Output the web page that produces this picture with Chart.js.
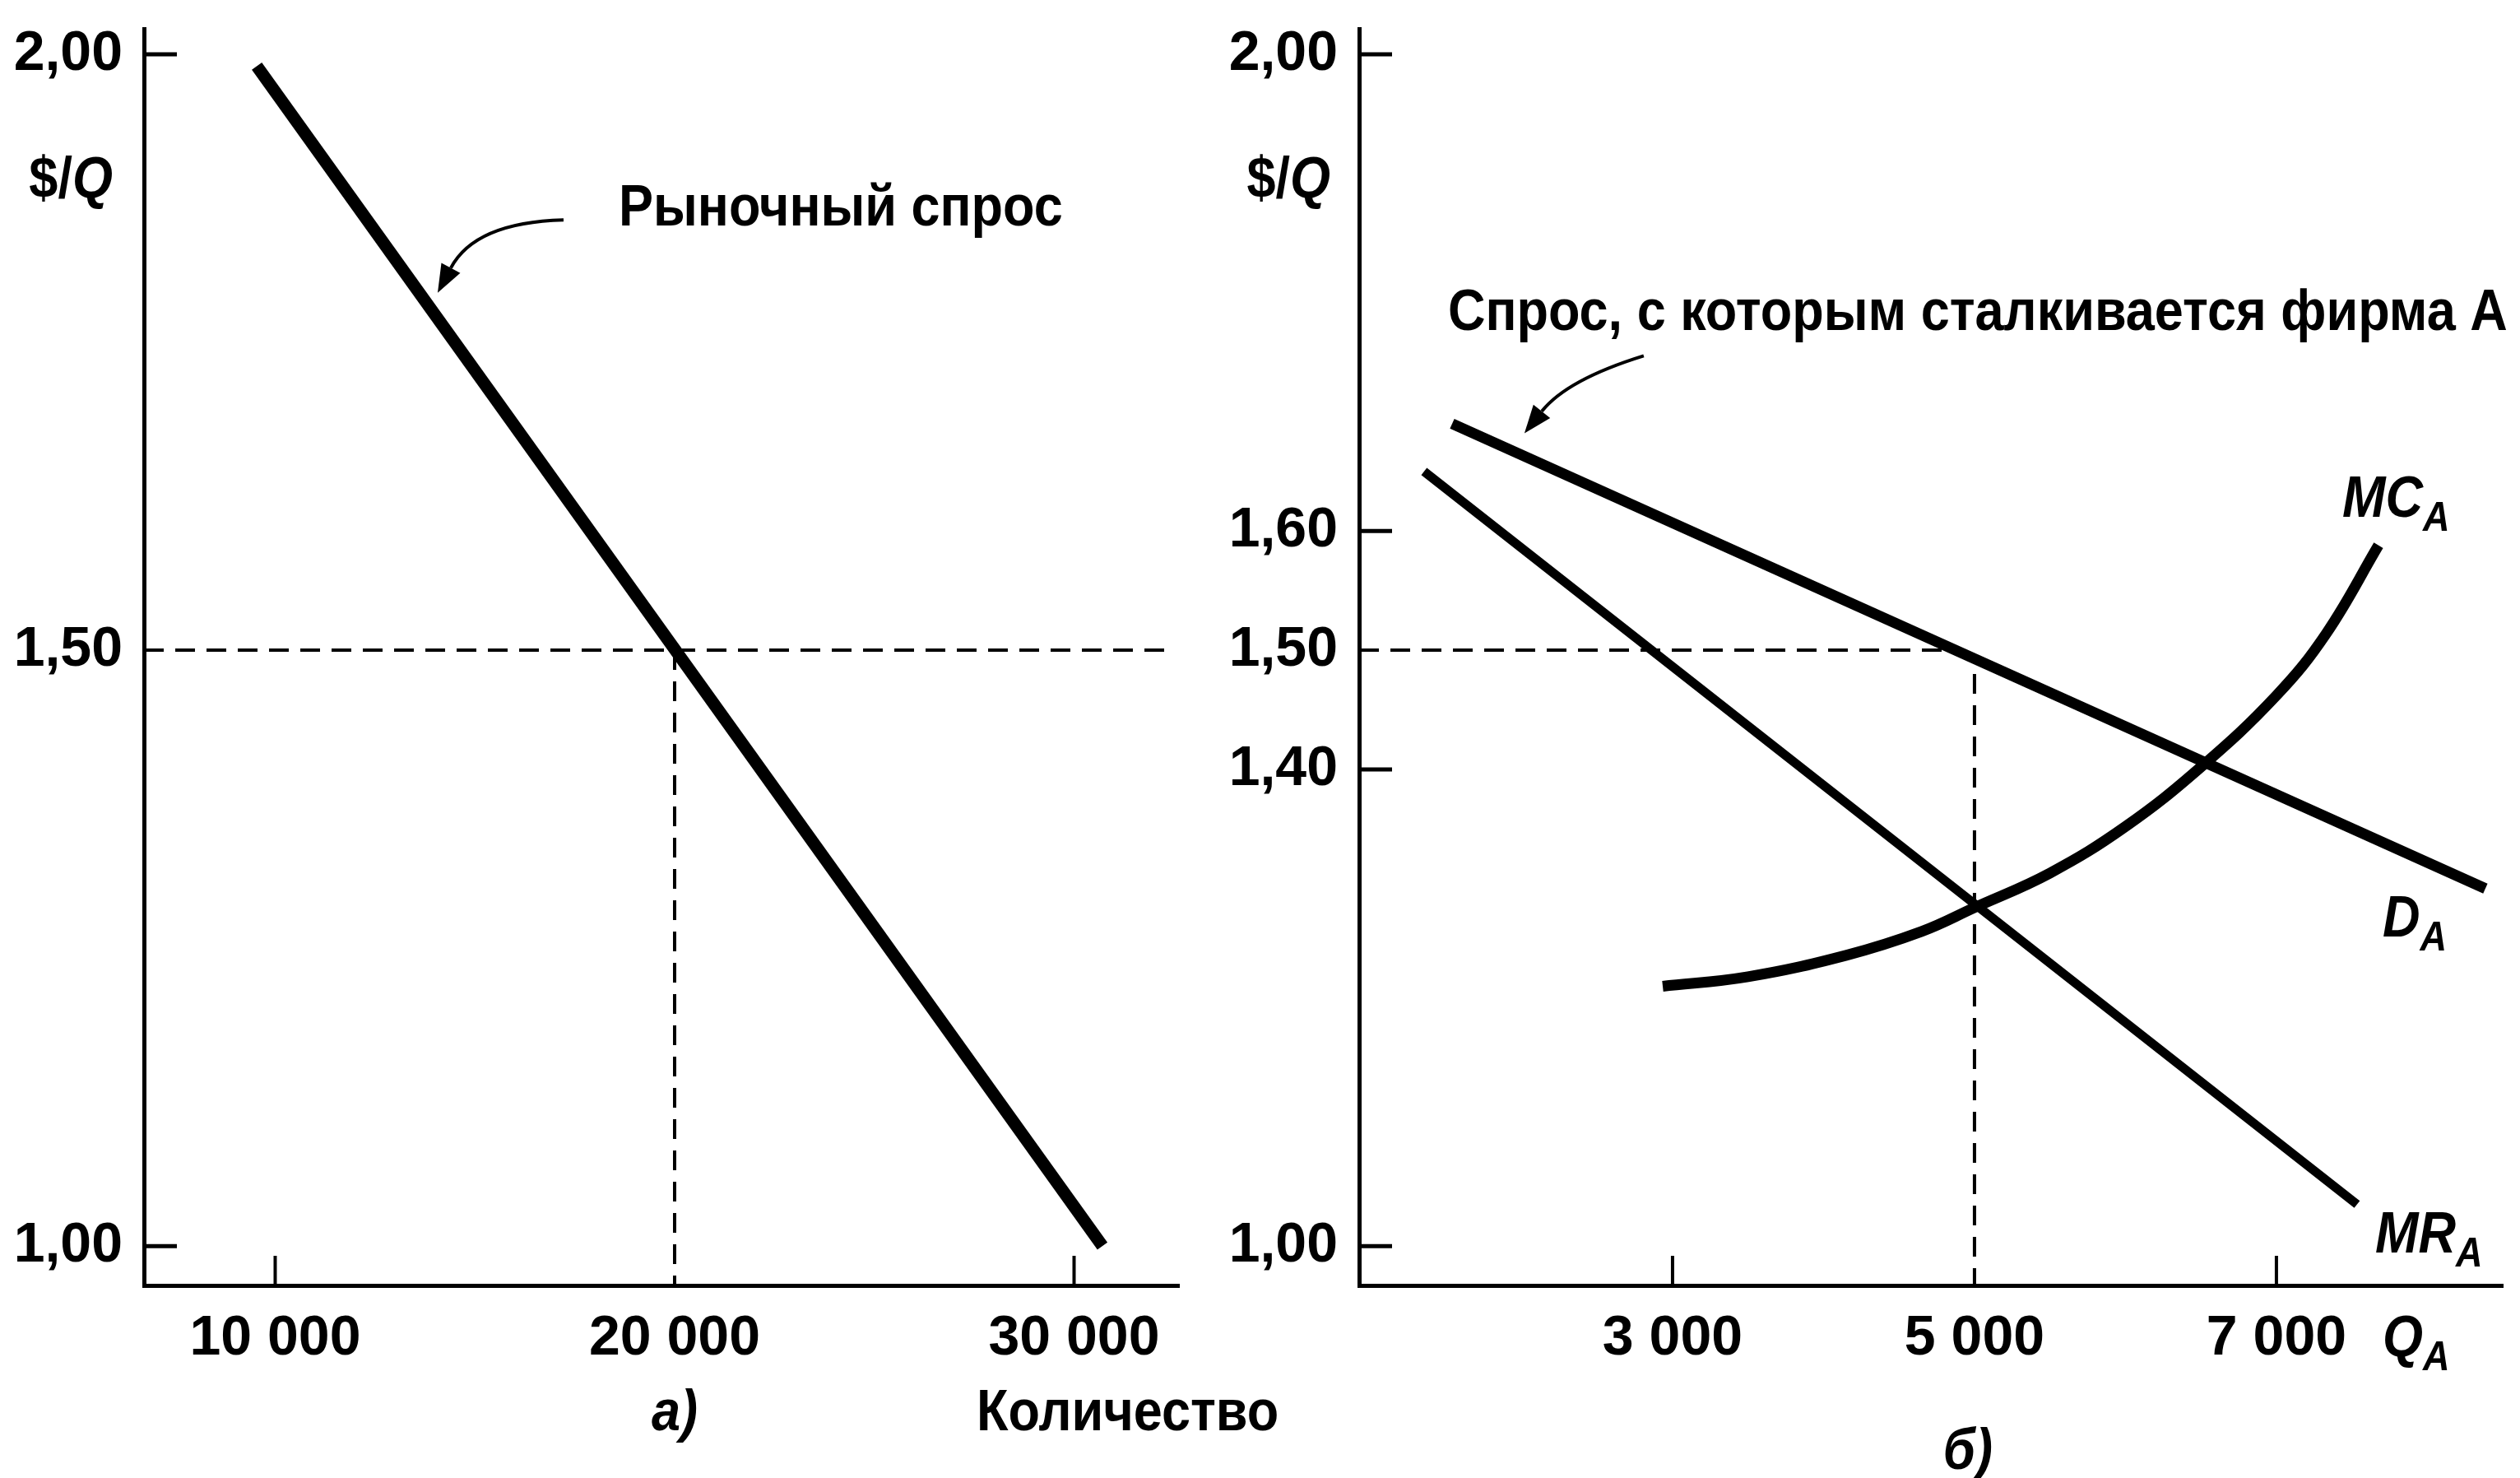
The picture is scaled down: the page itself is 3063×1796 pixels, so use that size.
<!DOCTYPE html>
<html>
<head>
<meta charset="utf-8">
<script src="https://cdn.jsdelivr.net/npm/chart.js@4.4.0/dist/chart.umd.min.js"></script>
<style>
  html, body { margin: 0; padding: 0; background: #fff; }
  body { width: 3063px; height: 1796px; position: relative; overflow: hidden; }
  canvas { position: absolute; top: 0; }
  #chart-a { left: 0; }
  #chart-b { left: 1470px; }
</style>
</head>
<body>
<canvas id="chart-a" width="1570" height="1796"></canvas>
<canvas id="chart-b" width="1593" height="1796"></canvas>
<script>
const FONT = "'Liberation Sans', Arial, Helvetica, sans-serif";

// а) рыночный спрос
const marketQ = [9540, 30710];
const marketP = [1.99, 1.00];
const marketGuideHQ = [6715, 32276];
const marketGuideHP = [1.50, 1.50];
const marketGuideVQ = [20000, 20000];
const marketGuideVP = [1.50, 0.967];
const leftXRange = [6715, 32626];
const leftXTicks = [10000, 20000, 30000];
const leftXLabels = ['10 000', '20 000', '30 000'];
const leftXMarks = [10000, 30000];
const leftYTicks = [1.00, 1.50, 2.00];
const leftYLabels = ['1,00', '1,50', '2,00'];
const leftYMarks = [1.00, 2.00];

// б) фирма A
const firmDQ = [1540, 8384];
const firmDP = [1.690, 1.300];
const mrQ = [1354, 7534];
const mrP = [1.650, 1.035];
const mcQ = [2935, 3500, 4150, 4650, 5000, 5500, 6000, 6500, 7000, 7330, 7676];
const mcP = [1.218, 1.226, 1.244, 1.264, 1.284, 1.313, 1.352, 1.402, 1.462, 1.514, 1.588];
const firmGuideHQ = [924, 4850];
const firmGuideHP = [1.50, 1.50];
const firmGuideVQ = [5000, 5000];
const firmGuideVP = [1.48, 0.967];
const rightXRange = [924, 8499];
const rightXTicks = [3000, 5000, 7000];
const rightXLabels = ['3 000', '5 000', '7 000'];
const rightXMarks = [3000, 7000];
const rightYTicks = [1.00, 1.40, 1.50, 1.60, 2.00];
const rightYLabels = ['1,00', '1,40', '1,50', '1,60', '2,00'];
const rightYMarks = [1.00, 1.40, 1.60, 2.00];

const yRange = [0.967, 2.0214];

// подписи (в координатах данных)
const leftNotes = [
  { parts: [{ t: 'Рыночный спрос' }], q: 18600, p: 1.870, align: 'left' },
  { parts: [{ t: '$/' }, { t: 'Q', italic: true }], q: 5930, p: 1.893, align: 'right' },
  { parts: [{ t: 'а)', italic: true }], q: 20000, p: 0.859, align: 'center' },
  { parts: [{ t: 'Количество' }], q: 27560, p: 0.859, align: 'left' }
];
const leftArrows = [{ from: [17219, 1.861], ctrl: [15005, 1.859], to: [14068, 1.800] }];

const rightNotes = [
  { parts: [{ t: 'Спрос, с которым сталкивается фирма A' }], q: 1512, p: 1.782, align: 'left' },
  { parts: [{ t: '$/' }, { t: 'Q', italic: true }], q: 733, p: 1.893, align: 'right' },
  { parts: [{ t: 'MC', italic: true }, { t: 'A', italic: true, sub: true }], q: 7436, p: 1.625, align: 'left' },
  { parts: [{ t: 'D', italic: true }, { t: 'A', italic: true, sub: true }], q: 7703, p: 1.273, align: 'left' },
  { parts: [{ t: 'MR', italic: true }, { t: 'A', italic: true, sub: true }], q: 7654, p: 1.008, align: 'left' },
  { parts: [{ t: 'Q', italic: true }, { t: 'A', italic: true, sub: true }], q: 7703, p: 0.921, align: 'left' },
  { parts: [{ t: 'б)', italic: true }], q: 4956, p: 0.826, align: 'center' }
];
const rightArrows = [{ from: [2809, 1.747], ctrl: [2300, 1.727], to: [2019, 1.682] }];

const pts = (qs, ps) => qs.map((q, i) => ({ x: q, y: ps[i] }));

function solid(qs, ps, width, smooth) {
  return { data: pts(qs, ps), borderColor: '#000', borderWidth: width, tension: smooth ? 0.4 : 0 };
}
function dashed(qs, ps) {
  return { data: pts(qs, ps), borderColor: '#000', borderWidth: 4, borderDash: [24, 14] };
}

// текст чуть сжат по ширине, как в оригинале
function drawRich(ctx, parts, x, y, align, size, squeeze) {
  const fontFor = p => (p.italic ? 'italic ' : '') + 'bold ' + Math.round(p.sub ? size * 0.72 : size) + 'px ' + FONT;
  let w = 0;
  parts.forEach(p => { ctx.font = fontFor(p); w += ctx.measureText(p.t).width * squeeze; });
  let cx = align === 'left' ? x : align === 'right' ? x - w : x - w / 2;
  ctx.textAlign = 'left';
  ctx.textBaseline = 'middle';
  parts.forEach(p => {
    ctx.font = fontFor(p);
    ctx.save();
    ctx.translate(cx, y + (p.sub ? size * 0.32 : 0));
    ctx.scale(squeeze, 1);
    ctx.fillText(p.t, 0, 0);
    ctx.restore();
    cx += ctx.measureText(p.t).width * squeeze;
  });
}

const annotPlugin = {
  id: 'annot',
  afterDraw(chart, args, opts) {
    const ctx = chart.ctx, xs = chart.scales.x, ys = chart.scales.y;
    const area = chart.chartArea;
    const px = q => xs.getPixelForValue(q), py = p => ys.getPixelForValue(p);
    ctx.save();
    ctx.fillStyle = '#000';
    ctx.strokeStyle = '#000';

    // засечки внутрь поля
    ctx.lineWidth = 5;
    (opts.yMarks || []).forEach(v => {
      ctx.beginPath(); ctx.moveTo(area.left, py(v)); ctx.lineTo(area.left + 40, py(v)); ctx.stroke();
    });
    ctx.lineWidth = 4;
    (opts.xMarks || []).forEach(v => {
      ctx.beginPath(); ctx.moveTo(px(v), area.bottom); ctx.lineTo(px(v), area.bottom - 36); ctx.stroke();
    });

    (opts.notes || []).forEach(n => drawRich(ctx, n.parts, px(n.q), py(n.p), n.align, 70, 0.9));

    (opts.arrows || []).forEach(a => {
      const s = [px(a.from[0]), py(a.from[1])];
      const c = [px(a.ctrl[0]), py(a.ctrl[1])];
      const e = [px(a.to[0]), py(a.to[1])];
      const ang = Math.atan2(e[1] - c[1], e[0] - c[0]);
      const len = 34, half = 13;
      const bx = e[0] - len * Math.cos(ang), by = e[1] - len * Math.sin(ang);
      ctx.lineWidth = 4;
      ctx.beginPath(); ctx.moveTo(s[0], s[1]); ctx.quadraticCurveTo(c[0], c[1], bx, by); ctx.stroke();
      ctx.beginPath();
      ctx.moveTo(e[0], e[1]);
      ctx.lineTo(bx + half * Math.sin(ang), by - half * Math.cos(ang));
      ctx.lineTo(bx - half * Math.sin(ang), by + half * Math.cos(ang));
      ctx.closePath(); ctx.fill();
    });
    ctx.restore();
  }
};

function panel(id, cfg) {
  return new Chart(document.getElementById(id), {
    type: 'line',
    data: { datasets: cfg.datasets },
    options: {
      responsive: false,
      animation: false,
      devicePixelRatio: 1,
      layout: { padding: { left: 0, right: cfg.padRight, top: 35, bottom: 0 } },
      elements: { point: { radius: 0 }, line: { borderCapStyle: 'butt', borderJoinStyle: 'round' } },
      plugins: {
        legend: { display: false },
        tooltip: { enabled: false },
        annot: { notes: cfg.notes, arrows: cfg.arrows, xMarks: cfg.xMarks, yMarks: cfg.yMarks }
      },
      scales: {
        x: {
          type: 'linear', min: cfg.xRange[0], max: cfg.xRange[1],
          afterFit: s => { s.height = 234; s.paddingLeft = 0; s.paddingRight = 0; },
          afterBuildTicks: ax => { ax.ticks = cfg.xTicks.map(v => ({ value: v })); },
          ticks: {
            callback: (v, i) => cfg.xLabels[i], color: '#000',
            font: { family: FONT, size: 68, weight: 'bold' }, padding: 24, maxRotation: 0, autoSkip: false
          },
          grid: { display: false, drawTicks: false },
          border: { display: true, color: '#000', width: 5 }
        },
        y: {
          type: 'linear', min: yRange[0], max: yRange[1],
          afterFit: s => { s.width = cfg.yWidth; s.paddingTop = 0; s.paddingBottom = 0; },
          afterBuildTicks: ax => { ax.ticks = cfg.yTicks.map(v => ({ value: v })); },
          ticks: {
            callback: (v, i) => cfg.yLabels[i], color: '#000',
            font: { family: FONT, size: 68, weight: 'bold' }, padding: 26, autoSkip: false
          },
          grid: { display: false, drawTicks: false },
          border: { display: true, color: '#000', width: 5 }
        }
      }
    },
    plugins: [annotPlugin]
  });
}

panel('chart-a', {
  datasets: [
    dashed(marketGuideHQ, marketGuideHP),
    dashed(marketGuideVQ, marketGuideVP),
    solid(marketQ, marketP, 15)
  ],
  xRange: leftXRange, xTicks: leftXTicks, xLabels: leftXLabels, xMarks: leftXMarks,
  yTicks: leftYTicks, yLabels: leftYLabels, yMarks: leftYMarks,
  yWidth: 175, padRight: 137,
  notes: leftNotes, arrows: leftArrows
});

panel('chart-b', {
  datasets: [
    dashed(firmGuideHQ, firmGuideHP),
    dashed(firmGuideVQ, firmGuideVP),
    solid(firmDQ, firmDP, 13),
    solid(mrQ, mrP, 11),
    solid(mcQ, mcP, 13, true)
  ],
  xRange: rightXRange, xTicks: rightXTicks, xLabels: rightXLabels, xMarks: rightXMarks,
  yTicks: rightYTicks, yLabels: rightYLabels, yMarks: rightYMarks,
  yWidth: 182, padRight: 21,
  notes: rightNotes, arrows: rightArrows
});
</script>
</body>
</html>
